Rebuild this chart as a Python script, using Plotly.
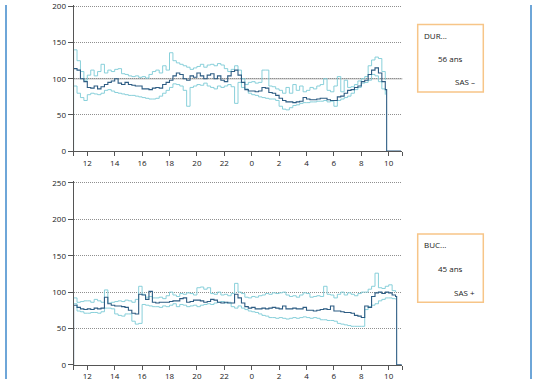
import plotly.graph_objects as go

# ---------------- data (hours elapsed since 11:00, 15-minute samples) ----------------
STEP_H = 0.25
hour_labels = ["12", "14", "16", "18", "20", "22", "0", "2", "4", "6", "8", "10"]
hour_positions = [1, 3, 5, 7, 9, 11, 13, 15, 17, 19, 21, 23]
axis_end_positions = [0, 24]

# Panel 1 : DUR... 56 ans, SAS -
top_median = [114, 112, 100, 96, 88, 87, 90, 86, 89, 92, 95, 97, 100, 94, 92, 95,
              92, 91, 90, 90, 86, 86, 85, 87, 88, 87, 92, 95, 98, 104, 108, 106,
              100, 98, 104, 102, 108, 104, 100, 105, 107, 100, 104, 98, 96, 104, 110, 112,
              105, 95, 85, 83, 83, 82, 83, 88, 87, 81, 80, 77, 73, 70, 68, 68,
              67, 68, 69, 74, 72, 71, 71, 72, 73, 73, 71, 70, 70, 75, 76, 80,
              84, 85, 88, 90, 96, 98, 106, 112, 115, 108, 96, 85]
top_upper = [140, 125, 110, 98, 105, 112, 104, 110, 120, 108, 112, 110, 113, 114, 107, 106,
             104, 103, 104, 102, 103, 101, 106, 110, 112, 108, 118, 112, 136, 125, 122, 120,
             118, 116, 113, 115, 117, 120, 116, 119, 120, 118, 121, 119, 114, 110, 113, 118,
             112, 100, 92, 95, 96, 94, 95, 112, 112, 90, 89, 86, 84, 80, 88, 80,
             92, 84, 90, 82, 84, 88, 86, 90, 92, 100, 84, 82, 90, 103, 82, 98,
             88, 89, 92, 97, 100, 103, 118, 126, 130, 128, 110, 98]
top_lower = [90, 80, 74, 70, 78, 80, 79, 78, 80, 84, 85, 83, 81, 80, 79, 78,
             77, 77, 76, 75, 74, 73, 72, 72, 73, 76, 80, 84, 88, 93, 92, 90,
             84, 62, 88, 90, 92, 91, 94, 90, 88, 86, 90, 88, 90, 92, 89, 66,
             95, 88, 86, 80, 78, 77, 75, 74, 73, 72, 72, 70, 62, 58, 57, 60,
             63, 64, 66, 67, 67, 68, 68, 69, 69, 70, 68, 69, 62, 70, 72, 74,
             76, 80, 85, 88, 94, 95, 98, 106, 104, 96, 86, 78]
top_drop_h, top_end_h = 22.85, 23.9

# Panel 2 : BUC... 45 ans, SAS +
bot_median = [82, 79, 77, 76, 77, 76, 78, 77, 78, 93, 84, 82, 81, 81, 80, 79,
              75, 71, 70, 97, 96, 90, 101, 86, 85, 86, 86, 86, 87, 88, 88, 91,
              92, 86, 87, 89, 89, 88, 86, 87, 90, 89, 86, 85, 86, 85, 85, 97,
              92, 85, 80, 78, 79, 77, 77, 78, 77, 78, 79, 78, 77, 81, 77, 77,
              78, 77, 77, 79, 75, 75, 74, 75, 76, 77, 76, 81, 74, 74, 73, 72,
              72, 71, 68, 67, 65, 81, 79, 94, 99, 100, 98, 100, 99, 96, 94]
bot_upper = [92, 86, 87, 88, 88, 86, 90, 88, 86, 103, 85, 86, 87, 88, 87, 89,
             88, 86, 90, 108, 97, 93, 94, 92, 92, 93, 91, 95, 100, 96, 94, 98,
             97, 99, 98, 96, 106, 107, 104, 106, 98, 97, 100, 96, 97, 95, 98, 112,
             100, 98, 93, 92, 94, 93, 95, 96, 98, 97, 99, 98, 99, 100, 96, 94,
             95, 93, 96, 99, 98, 93, 94, 95, 94, 108, 97, 96, 92, 97, 100, 96,
             99, 97, 95, 98, 100, 100, 104, 108, 126, 106, 105, 108, 110, 102, 100]
bot_lower = [84, 74, 73, 71, 71, 72, 72, 71, 73, 78, 78, 77, 70, 68, 67, 70,
             70, 60, 56, 57, 83, 82, 81, 80, 80, 79, 81, 80, 82, 84, 80, 83,
             82, 80, 81, 82, 80, 82, 83, 84, 83, 85, 86, 87, 85, 86, 80, 78,
             81, 78, 76, 74, 73, 72, 70, 68, 67, 65, 65, 64, 65, 64, 63, 64,
             65, 64, 65, 66, 65, 64, 65, 64, 62, 62, 61, 61, 60, 57, 56, 55,
             54, 53, 53, 53, 53, 76, 80, 82, 84, 88, 90, 92, 92, 91, 90]
bot_drop_h, bot_end_h = 23.58, 23.95

reference_level = 100

panels = [
    dict(median=top_median, upper=top_upper, lower=top_lower, drop=top_drop_h, end=top_end_h,
         name="DUR...", age="56 ans", sas="SAS \u2013", start_on="upper", ref_line=True),
    dict(median=bot_median, upper=bot_upper, lower=bot_lower, drop=bot_drop_h, end=bot_end_h,
         name="BUC...", age="45 ans", sas="SAS +", start_on="median", ref_line=False),
]

# ---------------- styling ----------------
W, H = 538, 384
DARK = "#2d5c83"
LIGHT = "#7ccbd6"
AXIS = "#555555"
GRID = "#8f8f8f"
FONT = "Open Sans"

x_dom = [73.6 / W, 402.4 / W]
y_doms = [[(H - 150) / H, 1.0], [(H - 369.5) / H, (H - 181.2) / H]]
y_ranges = [[0, 202], [0, 252]]
y_ticks = [[0, 50, 100, 150, 200], [0, 50, 100, 150, 200, 250]]

fig = go.Figure()

for i, p in enumerate(panels):
    xa = "x" if i == 0 else "x2"
    ya = "y" if i == 0 else "y2"
    times = [k * STEP_H for k in range(len(p["median"]))]

    def series(key):
        xs, ys = list(times), list(p[key])
        if p["start_on"] == key:
            xs, ys = [0] + xs, [0] + ys
        if key == "median":
            xs += [p["drop"], p["end"]]
            ys += [0, 0]
        return xs, ys

    if p["ref_line"]:
        fig.add_shape(type="line", xref=xa + " domain", yref=ya, x0=0, x1=1,
                      y0=reference_level, y1=reference_level,
                      line=dict(color="#c4c4c4", width=1.6), layer="below")

    for key, color, width in [("upper", LIGHT, 0.9), ("lower", LIGHT, 0.9), ("median", DARK, 1.1)]:
        xs, ys = series(key)
        fig.add_trace(go.Scatter(x=xs, y=ys, mode="lines", line=dict(color=color, width=width, shape="hv"),
                                 xaxis=xa, yaxis=ya, showlegend=False, hoverinfo="skip"))

    tickvals = axis_end_positions[:1] + hour_positions + axis_end_positions[1:]
    ticktext = [""] + hour_labels + [""]
    xkey = "xaxis" if i == 0 else "xaxis2"
    ykey = "yaxis" if i == 0 else "yaxis2"
    fig.update_layout({
        xkey: dict(domain=x_dom, range=[0, 24], anchor=ya, tickvals=tickvals, ticktext=ticktext,
                   ticks="outside", ticklen=4, tickwidth=1, tickcolor=AXIS, showline=True,
                   linecolor=AXIS, linewidth=1, showgrid=False, zeroline=False,
                   tickfont=dict(family=FONT, size=8, color="#222222")),
        ykey: dict(domain=y_doms[i], range=y_ranges[i], anchor=xa, tickvals=y_ticks[i],
                   ticks="outside", ticklen=5, tickwidth=1, tickcolor=AXIS, showline=True,
                   linecolor=AXIS, linewidth=1, showgrid=True, gridcolor=GRID, griddash="1px,1px",
                   gridwidth=1, zeroline=False,
                   tickfont=dict(family=FONT, size=8, color="#222222")),
    })

# info boxes
boxes = [(20, 89.3), (235, 305.3)]
for (top_px, bot_px), p in zip(boxes, panels):
    fig.add_shape(type="rect", xref="paper", yref="paper",
                  x0=417.7 / W, x1=483.3 / W, y0=(H - bot_px) / H, y1=(H - top_px) / H,
                  line=dict(color="#f7c588", width=1.5), fillcolor="rgba(0,0,0,0)")
    hgt = bot_px - top_px
    fig.add_annotation(x=422 / W, y=(H - (top_px + 0.16 * hgt)) / H, xref="paper", yref="paper",
                       text=p["name"], showarrow=False, xanchor="left", yanchor="middle",
                       font=dict(family=FONT, size=8, color="#222222"))
    fig.add_annotation(x=450 / W, y=(H - (top_px + 0.50 * hgt)) / H, xref="paper", yref="paper",
                       text=p["age"], showarrow=False, xanchor="center", yanchor="middle",
                       font=dict(family=FONT, size=8, color="#222222"))
    fig.add_annotation(x=477 / W, y=(H - (top_px + 0.85 * hgt)) / H, xref="paper", yref="paper",
                       text=p["sas"], showarrow=False, xanchor="right", yanchor="middle",
                       font=dict(family=FONT, size=8, color="#222222"))

# page border lines
for xp in (6, 531):
    fig.add_shape(type="line", xref="paper", yref="paper", x0=xp / W, x1=xp / W, y0=0, y1=1,
                  line=dict(color="#6ea6d8", width=2))

fig.update_layout(width=W, height=H, margin=dict(l=0, r=0, t=0, b=0),
                  paper_bgcolor="white", plot_bgcolor="white", showlegend=False)

fig.write_html("out.html", config={"displayModeBar": False},
               post_script="document.body.style.margin='0px';document.body.style.overflow='hidden';")
